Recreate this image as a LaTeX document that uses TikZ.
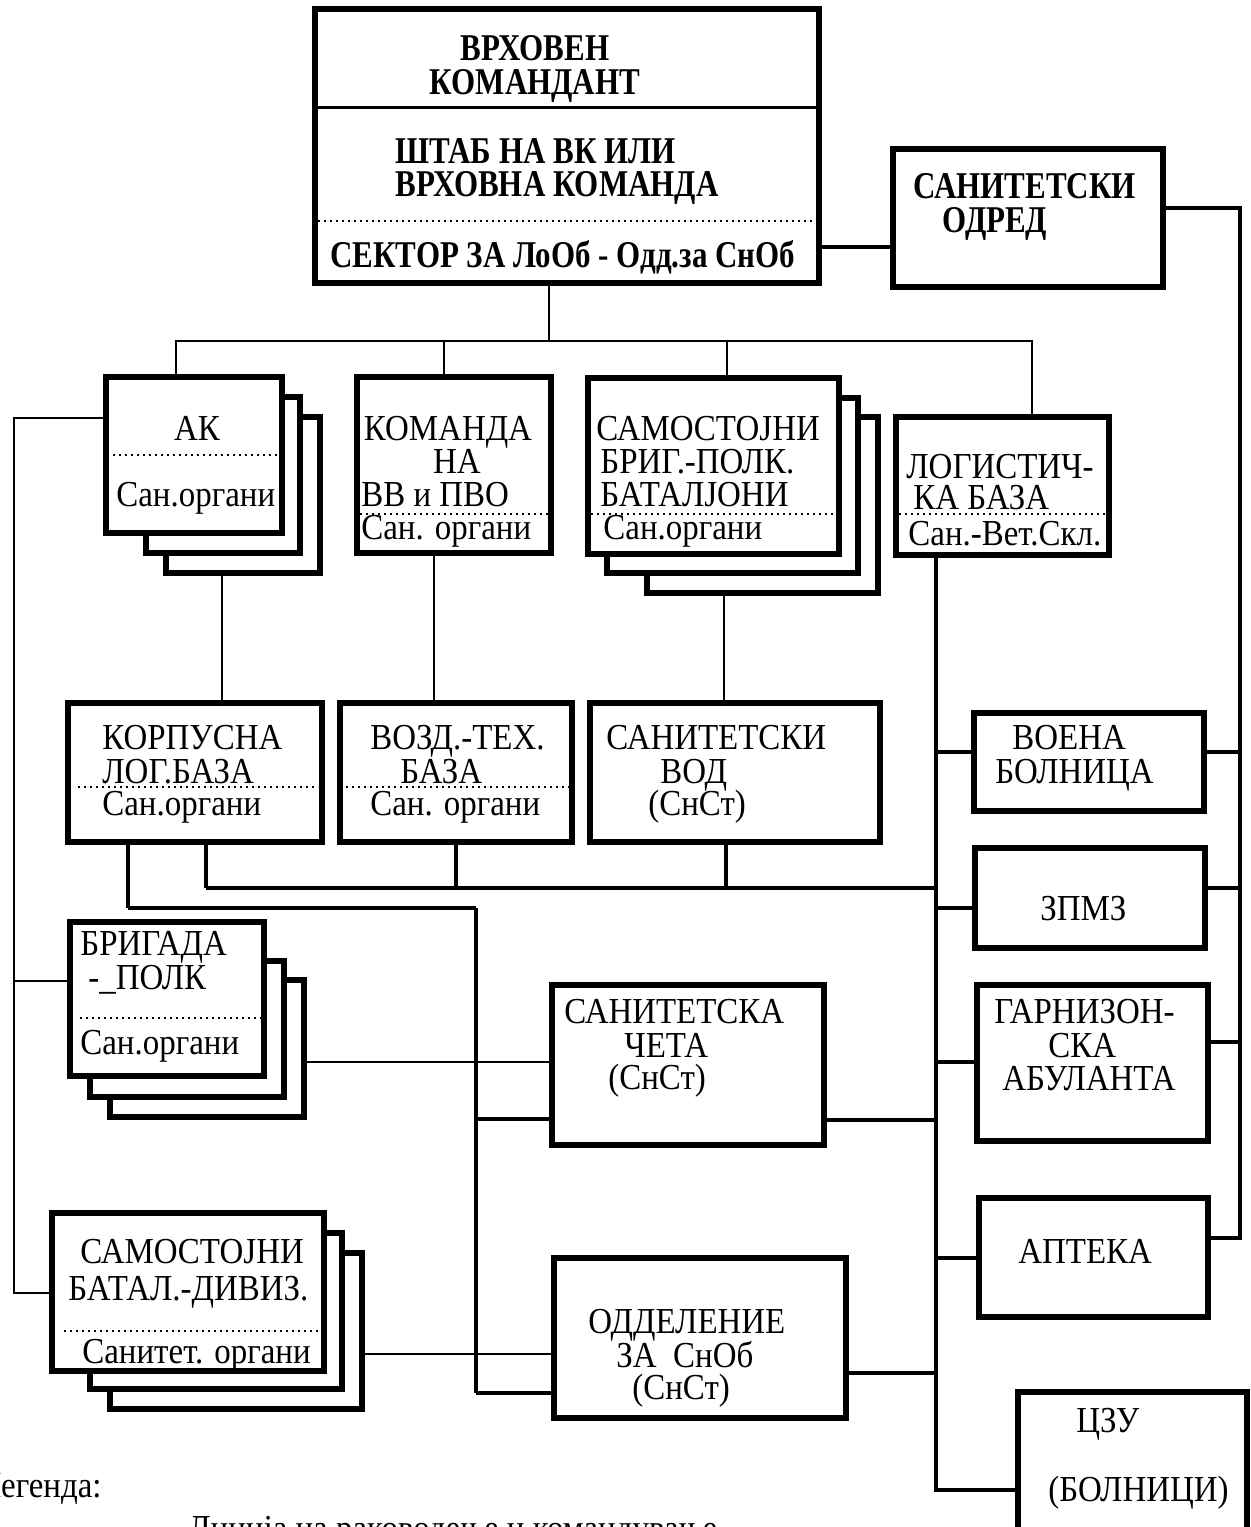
\documentclass[tikz,border=0pt]{standalone}
\usepackage{fontspec}
\setmainfont{Liberation Serif}[FakeStretch=0.9]
\newfontfamily\topfont{Liberation Serif}[FakeStretch=0.82]
\newcommand\mkbox[5]{\node[orgbox, minimum width={(#4-#2)*0.5pt}, minimum height={(#5-#3)*0.5pt}] (#1) at ({(#2+#4)/2},{(#3+#5)/2}) {};}
\begin{document}
\begin{tikzpicture}[x=0.5pt,y=-0.5pt,
  orgbox/.style={draw, line width=2.6pt, fill=white, inner sep=0pt, outer sep=0pt, rectangle},
  thinl/.style={line width=1pt},
  medl/.style={line width=1.6pt},
  thickl/.style={line width=2.3pt},
  dotline/.style={line width=1pt, dotted},
  lbl/.style={inner sep=0pt, anchor=base west, font=\fontsize{18.3}{20}\selectfont},
  blbl/.style={inner sep=0pt, anchor=base west, font=\topfont\fontsize{18.9}{20}\bfseries\selectfont},
]
\useasboundingbox (0,0) rectangle (1250,1527);

% ---------- boxes ----------
\mkbox{vk}{315}{9}{819}{283}
\mkbox{so}{893}{149}{1163}{287}
\mkbox{ak3}{166}{417}{320}{573}
\mkbox{ak2}{146}{397}{300}{553}
\mkbox{ak}{106}{377}{282}{533}
\mkbox{kom}{357}{377}{551}{553}
\mkbox{sam3}{647}{417}{878}{593}
\mkbox{sam2}{607}{398}{858}{573}
\mkbox{sam}{588}{378}{839}{554}
\mkbox{log}{896}{417}{1109}{555}
\mkbox{korp}{68}{703}{322}{842}
\mkbox{vozd}{340}{703}{572}{842}
\mkbox{vod}{590}{703}{880}{842}
\mkbox{voena}{974}{713}{1204}{811}
\mkbox{zpmz}{975}{848}{1205}{948}
\mkbox{brig3}{110}{980}{304}{1117}
\mkbox{brig2}{90}{961}{284}{1097}
\mkbox{brig}{70}{922}{264}{1076}
\mkbox{ceta}{552}{985}{824}{1145}
\mkbox{garn}{977}{985}{1208}{1141}
\mkbox{apt}{979}{1198}{1208}{1317}
\mkbox{sb3}{110}{1253}{362}{1409}
\mkbox{sb2}{90}{1233}{342}{1389}
\mkbox{sb}{52}{1213}{324}{1371}
\mkbox{odd}{554}{1258}{846}{1418}
\mkbox{czu}{1018}{1392}{1247}{1570}

% ---------- inner dividers ----------
\draw[line width=1.5pt] (316,107) -- (818,107);
\draw[dotline] (318,221) -- (816,221);
\draw[dotline] (113,455) -- (279,455);
\draw[dotline] (360,514) -- (549,514);
\draw[dotline] (591,514) -- (837,514);
\draw[dotline] (899,514) -- (1107,514);
\draw[dotline] (78,787) -- (318,787);
\draw[dotline] (346,787) -- (569,787);
\draw[dotline] (80,1018) -- (261,1018);
\draw[dotline] (64,1331) -- (321,1331);

% ---------- texts ----------
\node[blbl, anchor=base] (t1) at (535,60) {ВРХОВЕН};
\node[blbl, anchor=base] (t2) at (535,94) {КОМАНДАНТ};
\node[blbl] (t3) at (395,163) {ШТАБ НА ВК ИЛИ};
\node[blbl] (t4) at (395,196) {ВРХОВНА КОМАНДА};
\node[blbl] (t5) at (330,267) {СЕКТОР ЗА ЛоОб - Одд.за СнОб};
\node[blbl] (t6) at (913,198) {САНИТЕТСКИ};
\node[blbl] (t7) at (942,232) {ОДРЕД};

\node[lbl, anchor=base] (a1) at (197,440) {АК};
\node[lbl] (a2) at (116,506) {Сан.органи};

\node[lbl, anchor=base] (b1) at (448,440) {КОМАНДА};
\node[lbl, anchor=base] (b2) at (457,473) {НА};
\node[lbl] (b3) at (361,506) {ВВ и ПВО};
\node[lbl] (b4) at (361,539) {Сан. органи};

\node[lbl] (c1) at (596,440) {САМОСТОЈНИ};
\node[lbl] (c2) at (600,473) {БРИГ.-ПОЛК.};
\node[lbl] (c3) at (600,506) {БАТАЛЈОНИ};
\node[lbl] (c4) at (603,539) {Сан.органи};

\node[lbl] (d1) at (906,478) {ЛОГИСТИЧ-};
\node[lbl] (d2) at (913,509) {КА БАЗА};
\node[lbl] (d3) at (908,545) {Сан.-Вет.Скл.};

\node[lbl] (e1) at (102,749) {КОРПУСНА};
\node[lbl] (e2) at (102,783) {ЛОГ.БАЗА};
\node[lbl] (e3) at (102,815) {Сан.органи};

\node[lbl] (f1) at (370,749) {ВОЗД.-ТЕХ.};
\node[lbl] (f2) at (400,783) {БАЗА};
\node[lbl] (f3) at (370,815) {Сан. органи};

\node[lbl] (g1) at (606,749) {САНИТЕТСКИ};
\node[lbl] (g2) at (660,783) {ВОД};
\node[lbl] (g3) at (648,815) {(СнСт)};

\node[lbl] (h1) at (1012,749) {ВОЕНА};
\node[lbl] (h2) at (995,783) {БОЛНИЦА};
\node[lbl] (h3) at (1040,920) {ЗПМЗ};

\node[lbl] (i1) at (80,955) {БРИГАДА};
\node[lbl] (i2) at (88,989) {-\_ПОЛК};
\node[lbl] (i3) at (80,1054) {Сан.органи};

\node[lbl] (j1) at (564,1023) {САНИТЕТСКА};
\node[lbl] (j2) at (624,1057) {ЧЕТА};
\node[lbl] (j3) at (608,1089) {(СнСт)};

\node[lbl] (k1) at (994,1023) {ГАРНИЗОН-};
\node[lbl] (k2) at (1048,1057) {СКА};
\node[lbl] (k3) at (1002,1090) {АБУЛАНТА};

\node[lbl] (l1) at (1018,1263) {АПТЕКА};

\node[lbl] (m1) at (80,1263) {САМОСТОЈНИ};
\node[lbl] (m2) at (68,1300) {БАТАЛ.-ДИВИЗ.};
\node[lbl] (m3) at (82,1363) {Санитет. органи};

\node[lbl] (n1) at (588,1333) {ОДДЕЛЕНИЕ};
\node[lbl] (n2) at (616,1367) {ЗА\ \ СнОб};
\node[lbl] (n3) at (632,1399) {(СнСт)};

\node[lbl] (o1) at (1076,1432) {ЦЗУ};
\node[lbl] (o2) at (1048,1501) {(БОЛНИЦИ)};

\node[lbl, anchor=base east] (leg) at (102,1497) {Легенда:};
\node[lbl] (leg2) at (188,1540) {Линија на раководење и командување};

% ---------- junction coordinates ----------
\coordinate (t0) at (549,341);
\coordinate (bA) at (176,341);
\coordinate (bB) at (444,341);
\coordinate (bC) at (727,341);
\coordinate (bD) at (1032,341);
\coordinate (cs) at (850,247);
\coordinate (r0) at (1240,208);
\coordinate (r1) at (1240,752);
\coordinate (r2) at (1240,888);
\coordinate (r3) at (1240,1042);
\coordinate (r4) at (1240,1238);
\coordinate (lv1) at (14,418);
\coordinate (lv2) at (14,981);
\coordinate (lv3) at (14,1293);
\coordinate (k1c) at (222,600);
\coordinate (k2c) at (434,600);
\coordinate (k3c) at (724,600);
\coordinate (lg0) at (936,600);
\coordinate (lg1) at (936,752);
\coordinate (lg2) at (936,908);
\coordinate (lg3) at (936,1062);
\coordinate (lg4) at (936,1258);
\coordinate (lg5) at (936,1490);
\coordinate (lgc) at (936,1120);
\coordinate (lgo) at (936,1373);
\coordinate (p1) at (128,908);
\coordinate (p2) at (476,908);
\coordinate (p3) at (476,1393);
\coordinate (p4) at (476,1119);
\coordinate (q1) at (206,888);
\coordinate (q2) at (936,888);
\coordinate (q3) at (456,888);
\coordinate (q4) at (726,888);
\coordinate (w1) at (400,1062);
\coordinate (w2) at (400,1354);

% ---------- connectors ----------
\draw[thinl] (vk.south -| t0) -- (t0);
\draw[thinl] (ak.north -| bA) -- (bA) -- (bD) -- (log.north -| bD);
\draw[thinl] (bB) -- (kom.north -| bB);
\draw[thinl] (bC) -- (sam.north -| bC);
\draw[medl] (vk.east |- cs) -- (so.west |- cs);
\draw[thickl] (so.east |- r0) -- (r0) -- (r4) -- (apt.east |- r4);
\draw[thickl] (voena.east |- r1) -- (r1);
\draw[thickl] (zpmz.east |- r2) -- (r2);
\draw[thickl] (garn.east |- r3) -- (r3);

\draw[thinl] (ak.west |- lv1) -- (lv1) -- (lv3) -- (sb.west |- lv3);
\draw[thinl] (lv2) -- (brig.west |- lv2);

\draw[thinl] (ak3.south -| k1c) -- (korp.north -| k1c);
\draw[thinl] (kom.south -| k2c) -- (vozd.north -| k2c);
\draw[thinl] (sam3.south -| k3c) -- (vod.north -| k3c);

\draw[thickl] (log.south -| lg0) -- (lg5) -- (czu.west |- lg5);
\draw[thickl] (lg1) -- (voena.west |- lg1);
\draw[thickl] (lg2) -- (zpmz.west |- lg2);
\draw[thickl] (lg3) -- (garn.west |- lg3);
\draw[thickl] (lg4) -- (apt.west |- lg4);

\draw[medl] (korp.south -| p1) -- (p1);
\draw[thickl] (p1) -- (p2);
\draw[medl] (p2) -- (p3);
\draw[thickl] (p3) -- (odd.west |- p3);
\draw[thickl] (p4) -- (ceta.west |- p4);

\draw[medl] (korp.south -| q1) -- (q1);
\draw[thickl] (q1) -- (q2);
\draw[medl] (vozd.south -| q3) -- (q3);
\draw[medl] (vod.south -| q4) -- (q4);

\draw[thinl] (brig3.east |- w1) -- (ceta.west |- w1);
\draw[thinl] (sb3.east |- w2) -- (odd.west |- w2);
\draw[thickl] (ceta.east |- lgc) -- (lgc);
\draw[thickl] (odd.east |- lgo) -- (lgo);
\end{tikzpicture}
\end{document}
